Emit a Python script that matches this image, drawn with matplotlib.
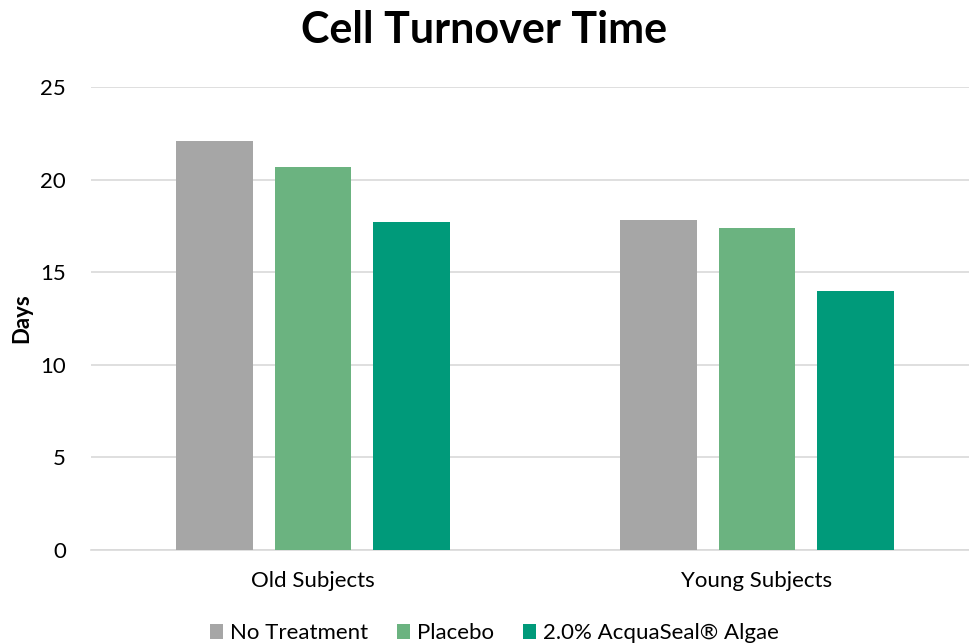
import matplotlib
matplotlib.use("Agg")
import matplotlib.pyplot as plt
import numpy as np

plt.rcParams['font.family'] = ['Lato', 'DejaVu Sans']

categories = ["Old Subjects", "Young Subjects"]
series_names = ["No Treatment", "Placebo", "2.0% AcquaSeal® Algae"]
no_treatment = [22.1, 17.8]
placebo = [20.7, 17.4]
algae = [17.7, 14.0]
colors = ["#A6A6A6", "#6BB380", "#009A7A"]

fig = plt.figure(figsize=(9.69, 6.44), dpi=100)
ax = fig.add_axes([91/969, (644-550)/644, 888/969, (550-87)/644])

x = np.arange(len(categories))
width = 0.173
step = 0.222
for i, (vals, name, c) in enumerate(zip([no_treatment, placebo, algae], series_names, colors)):
    ax.bar(x + (i-1)*step, vals, width, color=c, label=name, zorder=3)

ax.set_xlim(-0.5, 1.5)
ax.set_ylim(0, 25)
ax.set_yticks([0, 5, 10, 15, 20, 25])
ax.yaxis.grid(True, color="#D9D9D9", linewidth=1.2, zorder=0)
ax.set_xticks(x)
ax.set_xticklabels(categories)
for s in ["top", "right", "left"]:
    ax.spines[s].set_visible(False)
ax.spines["bottom"].set_color("#D9D9D9")
ax.spines["bottom"].set_linewidth(1.2)
ax.tick_params(axis="both", length=0, labelsize=16, colors="#000000")
ax.tick_params(axis="y", pad=18)
ax.tick_params(axis="x", pad=15)
ax.set_ylabel("Days", fontsize=16, fontweight="bold", labelpad=6)

fig.suptitle("Cell Turnover Time", fontsize=31, fontweight="bold", y=0.985)

leg = fig.legend(loc="lower center", bbox_to_anchor=(0.51, -0.03), ncol=3, frameon=False,
                 fontsize=16, handlelength=0.6, handleheight=0.6, handletextpad=0.3,
                 columnspacing=1.3)

fig.savefig("out.png", dpi=100)
